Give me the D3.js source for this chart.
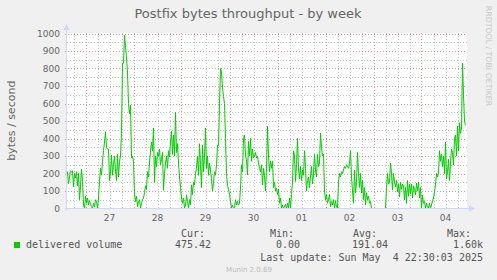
<!DOCTYPE html>
<html lang="en">
<head>
<meta charset="UTF-8">
<title>Postfix bytes throughput - by week</title>
<script src="https://d3js.org/d3.v7.min.js"></script>
<style>
  html, body { margin: 0; padding: 0; background: #f0f0f0; }
  svg { display: block; }
  .lbl { font-family: "DejaVu Sans", sans-serif; fill: #666; }
  .mono { font-family: "DejaVu Sans Mono", monospace; font-size: 10px; fill: #555; white-space: pre; }
</style>
</head>
<body>
<svg id="chart" width="497" height="280"></svg>
<script>
// y axis ticks (bytes / second)
const yTicks = [0, 100, 200, 300, 400, 500, 600, 700, 800, 900, 1000];
// day labels, one per midnight in the window
const dayLabels = ["27", "28", "29", "30", "01", "02", "03", "04"];
// legend
const legendName = "delivered volume";
const legendHeads = ["Cur:", "Min:", "Avg:", "Max:"];
const legendValues = ["475.42", "0.00", "191.04", "1.60k"];
const lastUpdate = "Last update: Sun May  4 22:30:03 2025";

// delivered volume, one value per 30 min step
const volume = [
  200,210,140,180,215,210,215,125,200,175,
  210,130,200,50,130,225,155,20,0,70,
  30,60,20,45,25,10,0,30,10,50,
  40,0,60,160,230,190,270,330,380,438,
  350,340,340,160,210,305,190,250,300,220,
  160,310,180,270,300,430,830,830,990,930,
  860,780,600,540,590,290,300,270,80,40,
  70,10,40,50,0,30,50,60,90,130,
  110,210,180,260,330,380,330,460,150,300,
  240,320,300,340,250,280,320,105,200,260,
  300,230,330,295,380,440,310,420,300,550,
  320,370,260,180,120,60,30,60,2,20,
  78,40,2,50,20,135,80,150,135,200,
  230,300,190,370,250,120,360,210,300,460,
  230,300,190,260,220,170,100,150,210,190,
  250,360,360,600,800,780,690,640,600,400,
  200,130,110,80,40,5,20,0,5,50,
  20,40,20,30,116,250,211,400,420,300,
  280,192,383,300,400,270,340,290,300,320,
  290,300,260,230,210,250,135,230,190,100,
  230,470,300,210,270,230,270,120,150,100,
  115,80,110,30,60,2,20,2,10,25,
  2,30,2,60,2,80,150,330,300,155,
  250,400,220,170,240,160,220,190,330,230,
  100,160,180,120,190,240,140,200,310,220,
  180,310,240,260,430,350,300,310,100,50,
  80,30,50,80,10,40,20,50,0,45,
  10,0,150,200,180,210,200,220,240,230,
  250,240,230,260,330,180,100,30,220,90,
  150,320,200,120,200,90,160,50,120,20,
  90,50,70,30,40,0,0,0,0,0,
  0,0,0,0,0,0,0,0,0,0,
  120,200,140,150,260,200,105,200,150,125,
  160,95,140,67,150,110,140,130,48,120,
  30,160,70,140,85,140,60,130,110,80,
  145,100,150,60,120,0,75,30,40,0,
  30,10,2,30,0,20,45,60,97,135,
  200,180,200,330,270,310,240,300,200,380,
  170,210,280,160,260,340,320,250,400,420,
  300,470,330,490,430,460,830,650,500,475
];

const step = 1800 * 1000;
const end = Date.UTC(2025, 4, 4, 22, 30);
const start = end - volume.length * step;

const plot = { left: 67, right: 467, top: 33, bottom: 208.5 };
const svg = d3.select("#chart");

const x = d3.scaleUtc().domain([start, end]).range([plot.left - 0.5, plot.right - 0.5]);
const y = d3.scaleLinear().domain([0, 1000]).range([plot.bottom, plot.top + 0.5]);

// canvas
svg.append("rect")
  .attr("x", plot.left).attr("y", plot.top)
  .attr("width", plot.right - plot.left).attr("height", plot.bottom - plot.top)
  .attr("fill", "#fff");

const grid = svg.append("g").attr("shape-rendering", "crispEdges");

// minor grid
const minorX = d3.utcHour.every(6).range(new Date(start), new Date(end))
  .filter(d => d.getUTCHours() !== 0);
grid.selectAll(".vminor").data(minorX).enter().append("line")
  .attr("x1", d => Math.round(x(d)) + 0.5).attr("x2", d => Math.round(x(d)) + 0.5)
  .attr("y1", plot.top).attr("y2", plot.bottom)
  .attr("stroke", "#c8c8c8").attr("stroke-dasharray", "1,2");

const minorY = d3.range(50, 1000, 100);
grid.selectAll(".hminor").data(minorY).enter().append("line")
  .attr("x1", plot.left).attr("x2", plot.right)
  .attr("y1", d => Math.round(y(d)) + 0.5).attr("y2", d => Math.round(y(d)) + 0.5)
  .attr("stroke", "#c8c8c8").attr("stroke-dasharray", "1,2");

// major grid
const days = d3.utcDay.range(new Date(start), new Date(end));
grid.selectAll(".vmajor").data(days).enter().append("line")
  .attr("x1", d => Math.round(x(d)) + 0.5).attr("x2", d => Math.round(x(d)) + 0.5)
  .attr("y1", plot.top).attr("y2", plot.bottom + 2)
  .attr("stroke", "#e89a9a").attr("stroke-dasharray", "1,2");

grid.selectAll(".hmajor").data(yTicks.slice(1)).enter().append("line")
  .attr("x1", plot.left - 2).attr("x2", plot.right)
  .attr("y1", d => Math.round(y(d)) + 0.5).attr("y2", d => Math.round(y(d)) + 0.5)
  .attr("stroke", "#e89a9a").attr("stroke-dasharray", "1,2");

// data line
const line = d3.line()
  .x((d, i) => x(start + i * step))
  .y(d => y(d));
svg.append("path")
  .datum(volume)
  .attr("fill", "none")
  .attr("stroke", "#00cc00")
  .attr("stroke-width", 1)
  .attr("d", line);

// axes with arrows
const axisColor = "#cfd6f8";
svg.append("line")
  .attr("x1", plot.left - 0.5).attr("x2", plot.left - 0.5)
  .attr("y1", plot.bottom + 2).attr("y2", plot.top - 4)
  .attr("stroke", axisColor).attr("shape-rendering", "crispEdges");
svg.append("path")
  .attr("d", `M${plot.left - 3.5},${plot.top - 3} L${plot.left + 2.5},${plot.top - 3} L${plot.left - 0.5},${plot.top - 9} Z`)
  .attr("fill", axisColor);
svg.append("line")
  .attr("x1", plot.left - 2).attr("x2", plot.right + 4)
  .attr("y1", plot.bottom).attr("y2", plot.bottom)
  .attr("stroke", axisColor).attr("shape-rendering", "crispEdges");
svg.append("path")
  .attr("d", `M${plot.right + 2},${plot.bottom - 3} L${plot.right + 2},${plot.bottom + 3} L${plot.right + 8},${plot.bottom} Z`)
  .attr("fill", axisColor);

// y tick labels
svg.selectAll(".ytick").data(yTicks).enter().append("text")
  .attr("class", "lbl")
  .attr("x", 60).attr("y", d => y(d) + 3.3)
  .attr("text-anchor", "end")
  .attr("font-size", 9)
  .text(d => d);

// x tick labels at noon
svg.selectAll(".xtick").data(days).enter().append("text")
  .attr("class", "lbl")
  .attr("x", d => x(+d + 12 * 3600e3))
  .attr("y", 221)
  .attr("text-anchor", "middle")
  .attr("font-size", 9)
  .text((d, i) => dayLabels[i]);

// title
svg.append("text")
  .attr("class", "lbl")
  .attr("x", 248).attr("y", 18)
  .attr("text-anchor", "middle")
  .attr("font-size", 13)
  .text("Postfix bytes throughput - by week");

// vertical axis label
svg.append("text")
  .attr("class", "lbl")
  .attr("transform", `translate(15,${(plot.top + plot.bottom) / 2}) rotate(-90)`)
  .attr("text-anchor", "middle")
  .attr("font-size", 11)
  .text("bytes / second");

// rrdtool credit
svg.append("text")
  .attr("class", "lbl")
  .attr("transform", "translate(485.5,56) rotate(90)")
  .attr("text-anchor", "middle")
  .attr("font-size", 7.8)
  .style("fill", "#c8c8c8")
  .text("RRDTOOL / TOBI OETIKER");

// legend
svg.append("rect")
  .attr("x", 14).attr("y", 242).attr("width", 6).attr("height", 6)
  .attr("fill", "#00cc00");
svg.append("text").attr("class", "mono").attr("x", 26).attr("y", 247.5).text(legendName);

const headX = [181, 270, 353, 447];
const valueRight = [211, 300, 388, 483];
svg.selectAll(".head").data(legendHeads).enter().append("text")
  .attr("class", "mono")
  .attr("x", (d, i) => headX[i]).attr("y", 236.5)
  .text(d => d);
svg.selectAll(".val").data(legendValues).enter().append("text")
  .attr("class", "mono")
  .attr("x", (d, i) => valueRight[i]).attr("y", 247.5)
  .attr("text-anchor", "end")
  .text(d => d);
svg.append("text").attr("class", "mono")
  .attr("x", 483).attr("y", 260.5)
  .attr("text-anchor", "end")
  .text(lastUpdate);

svg.append("text")
  .attr("class", "lbl")
  .attr("x", 249).attr("y", 271.5)
  .attr("text-anchor", "middle")
  .attr("font-size", 7)
  .style("fill", "#bbb")
  .text("Munin 2.0.69");
</script>
</body>
</html>
